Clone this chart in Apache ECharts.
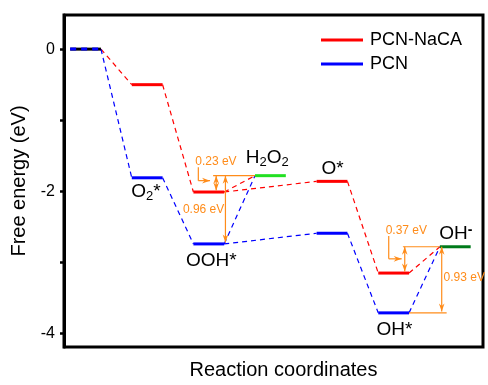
<!DOCTYPE html>
<html>
<head>
<meta charset="utf-8">
<script src="https://cdn.jsdelivr.net/npm/echarts@6/dist/echarts.min.js"></script>
<style>
  html, body { margin: 0; padding: 0; background: #fff; }
  #chart { width: 488px; height: 385px; }
</style>
</head>
<body>
<div id="chart"></div>
<script>
const FONT = '"Liberation Sans", Arial, sans-serif';
const RED = '#ff0000';
const BLUE = '#0000ff';
const ORANGE = '#ff8c1a';

// reaction steps along the x axis: * , O2*, OOH*, H2O2, O*, OH*, OH-
const nacaSteps = [1, 2, 4, 5];
const nacaEnergy = [-0.50, -2.01, -1.86, -3.15];
const pcnSteps = [1, 2, 4, 5];
const pcnEnergy = [-1.81, -2.74, -2.59, -3.71];
const startEnergy = 0;
const h2o2Energy = -1.78;
const ohEnergy = -2.78;
const gapTexts = ['0.23 eV', '0.96 eV', '0.37 eV', '0.93 eV'];
const yTickValues = [-4, -3, -2, -1, 0];
const yLabelValues = [-4, -2, 0];

// a level occupies [step + L0, step + L1]
const L0 = 0.1, L1 = 0.6;

function buildConnectors(steps, energy) {
  let pts = [[0, startEnergy]];
  steps.forEach((s, i) => pts.push([s, energy[i]]));
  pts.push([6, ohEnergy]);
  let segs = [];
  for (let i = 0; i < pts.length - 1; i++) {
    segs.push([pts[i][0] + L1, pts[i][1], pts[i + 1][0] + L0, pts[i + 1][1]]);
  }
  // branch from OOH* up to H2O2
  let k = steps.indexOf(2);
  segs.push([2 + L1, energy[k], 3 + L0, h2o2Energy]);
  return segs;
}

function levelSeries(name, color, data, dashed) {
  return {
    type: 'custom',
    name: name,
    itemStyle: { color: color },
    z: 5,
    data: data,
    renderItem: function (params, api) {
      let s = api.value(0), e = api.value(1);
      let p1 = api.coord([s + L0, e]);
      let p2 = api.coord([s + L1, e]);
      return {
        type: 'line',
        shape: { x1: p1[0], y1: p1[1], x2: p2[0], y2: p2[1] },
        style: { stroke: color, lineWidth: 3, lineDash: dashed ? [6, 5] : null }
      };
    }
  };
}

function connectorSeries(name, color, segs) {
  return {
    type: 'custom',
    name: name,
    z: 3,
    data: segs,
    renderItem: function (params, api) {
      let p1 = api.coord([api.value(0), api.value(1)]);
      let p2 = api.coord([api.value(2), api.value(3)]);
      return {
        type: 'line',
        shape: { x1: p1[0], y1: p1[1], x2: p2[0], y2: p2[1] },
        style: { stroke: color, lineWidth: 1.2, lineDash: [5, 4] }
      };
    }
  };
}

function head(tip, dir) {
  const L = 8, W = 2.8, N = 5.5;
  let bx = tip[0] - dir[0] * L, by = tip[1] - dir[1] * L;
  let nx = -dir[1], ny = dir[0];
  return {
    type: 'polygon',
    shape: { points: [tip, [bx + nx * W, by + ny * W], [tip[0] - dir[0] * N, tip[1] - dir[1] * N], [bx - nx * W, by - ny * W]] },
    style: { fill: ORANGE }
  };
}

function seg(a, b) {
  return { type: 'line', shape: { x1: a[0], y1: a[1], x2: b[0], y2: b[1] }, style: { stroke: ORANGE, lineWidth: 1.2 } };
}

function vArrow(api, x, eTop, eBot) {
  let a = api.coord([x, eTop]), b = api.coord([x, eBot]);
  b[1] -= 1.5;
  return [seg(a, b), head(a, [0, -1]), head(b, [0, 1])];
}

function bracket(api, x, eTop, eBot, xEnd) {
  let a = api.coord([x, eTop]), b = api.coord([x, eBot]), c = api.coord([xEnd, eBot]);
  return [seg(a, b), seg(b, c), head(c, [1, 0])];
}

function orangeText(api, x, e, txt) {
  let p = api.coord([x, e]);
  return {
    type: 'text', x: p[0], y: p[1],
    style: { text: txt, fill: ORANGE, fontSize: 12, fontFamily: FONT, align: 'left', verticalAlign: 'middle' }
  };
}

function stepLabel(api, x, e, dy, txt) {
  let p = api.coord([x, e]);
  return {
    type: 'text', x: p[0], y: p[1] + dy,
    style: {
      text: txt, align: 'left', verticalAlign: 'middle',
      rich: {
        n: { fontSize: 19, fontFamily: FONT, fill: '#000', lineHeight: 22 },
        s: { fontSize: 13, fontFamily: FONT, fill: '#000', lineHeight: 12, verticalAlign: 'bottom' },
        p: { fontSize: 14, fontFamily: FONT, fill: '#000', lineHeight: 14, verticalAlign: 'top', fontWeight: 'bold' }
      }
    }
  };
}

const annotationSeries = {
  type: 'custom',
  name: 'annotations',
  z: 6,
  data: [[0]],
  renderItem: function (params, api) {
    let ooh = nacaEnergy[nacaSteps.indexOf(2)];
    let oohP = pcnEnergy[pcnSteps.indexOf(2)];
    let oh = nacaEnergy[nacaSteps.indexOf(5)];
    let ohP = pcnEnergy[pcnSteps.indexOf(5)];
    let kids = [];
    // H2O2 gaps
    kids.push(seg(api.coord([2.42, h2o2Energy]), api.coord([3 + L0, h2o2Energy])));
    kids = kids.concat(vArrow(api, 2.47, h2o2Energy, ooh));
    kids = kids.concat(vArrow(api, 2.62, h2o2Energy, oohP));
    kids = kids.concat(bracket(api, 2.18, -1.66, -1.85, 2.37));
    kids.push(orangeText(api, 2.13, -1.59, gapTexts[0]));
    kids.push(orangeText(api, 1.93, -2.26, gapTexts[1]));
    // OH- gaps
    kids.push(seg(api.coord([5.5, ohEnergy]), api.coord([6 + L0, ohEnergy])));
    kids.push(seg(api.coord([5 + L1, ohP]), api.coord([6.21, ohP])));
    kids = kids.concat(vArrow(api, 5.53, ohEnergy, oh));
    kids = kids.concat(vArrow(api, 6.13, ohEnergy, ohP));
    kids = kids.concat(bracket(api, 5.27, -2.63, -2.95, 5.48));
    kids.push(orangeText(api, 5.22, -2.56, gapTexts[2]));
    kids.push(orangeText(api, 6.16, -3.22, gapTexts[3]));
    return { type: 'group', children: kids };
  }
};

const labelSeries = {
  type: 'custom',
  name: 'labels',
  z: 7,
  data: [[0]],
  renderItem: function (params, api) {
    return {
      type: 'group',
      children: [
        stepLabel(api, 1.09, pcnEnergy[0], 14, '{n|O}{s|2}{n|*}'),
        stepLabel(api, 1.98, pcnEnergy[1], 17, '{n|OOH*}'),
        stepLabel(api, 2.95, h2o2Energy, -18, '{n|H}{s|2}{n|O}{s|2}'),
        stepLabel(api, 4.18, nacaEnergy[2], -13, '{n|O*}'),
        stepLabel(api, 5.07, pcnEnergy[3], 17, '{n|OH*}'),
        stepLabel(api, 6.09, ohEnergy, -13, '{n|OH}{p|-}')
      ]
    };
  }
};

const chart = echarts.init(document.getElementById('chart'), null, { renderer: 'canvas' });
chart.setOption({
  animation: false,
  backgroundColor: '#fff',
  grid: { left: 64, right: 5, top: 15, bottom: 32, show: true, borderColor: '#000', borderWidth: 3 },
  legend: {
    data: ['PCN-NaCA', 'PCN'],
    orient: 'vertical',
    left: 316,
    top: 26,
    icon: 'rect',
    itemWidth: 42,
    itemHeight: 3,
    itemGap: 6,
    textStyle: { fontSize: 18, fontFamily: FONT, color: '#000', lineHeight: 18, padding: [0, 0, 0, 2] }
  },
  xAxis: {
    type: 'value', min: 0, max: 6.8,
    axisLine: { show: false }, axisTick: { show: false }, axisLabel: { show: false }, splitLine: { show: false },
    name: 'Reaction coordinates', nameLocation: 'middle', nameGap: 13,
    nameTextStyle: { fontSize: 20, fontFamily: FONT, color: '#000', verticalAlign: 'top', padding: [0, 0, 0, 20] }
  },
  yAxis: {
    type: 'value', min: -4.19, max: 0.48,
    axisLine: { show: true, lineStyle: { color: '#000', width: 3 } },
    axisTick: { show: true, length: 4, lineStyle: { color: '#000', width: 2.5 }, customValues: yTickValues },
    axisLabel: { customValues: yLabelValues, fontSize: 16, fontFamily: FONT, color: '#000', margin: 9 },
    splitLine: { show: false },
    name: 'Free energy (eV)', nameLocation: 'middle', nameGap: 35,
    nameTextStyle: { fontSize: 20, fontFamily: FONT, color: '#000' }
  },
  series: [
    connectorSeries('naca-links', RED, buildConnectors(nacaSteps, nacaEnergy)),
    connectorSeries('pcn-links', BLUE, buildConnectors(pcnSteps, pcnEnergy)),
    levelSeries('start', '#000', [[0, startEnergy]], false),
    levelSeries('start-pcn', BLUE, [[0, startEnergy]], true),
    levelSeries('PCN-NaCA', RED, nacaSteps.map((s, i) => [s, nacaEnergy[i]]), false),
    levelSeries('PCN', BLUE, pcnSteps.map((s, i) => [s, pcnEnergy[i]]), false),
    levelSeries('H2O2', '#22e022', [[3, h2o2Energy]], false),
    levelSeries('OH-', '#007a1a', [[6, ohEnergy]], false),
    annotationSeries,
    labelSeries
  ]
});
</script>
</body>
</html>
